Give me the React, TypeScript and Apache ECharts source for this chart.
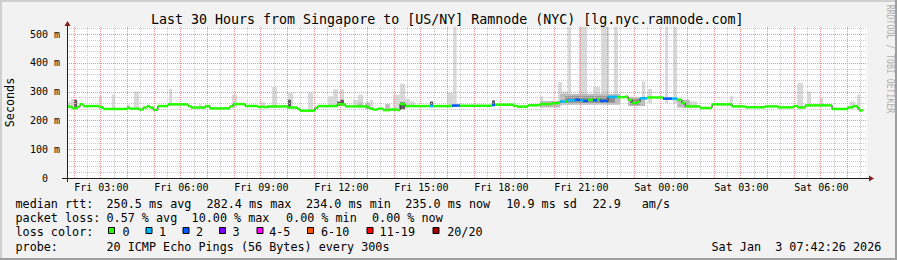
import React, { useEffect, useRef } from 'react';
import * as echarts from 'echarts';

// ---------- texts ----------
const titleText = 'Last 30 Hours from Singapore to [US/NY] Ramnode (NYC) [lg.nyc.ramnode.com]';
const yAxisName = 'Seconds';
const watermarkText = 'RRDTOOL / TOBI OETIKER';

// ---------- axes (hours since Fri 00:00) ----------
const xMinHour = 1.75;
const xMaxHour = 31.75;
const yMaxMs = 525;

// ---------- median rtt (step segments) ----------
const medianStart = [
  1.75, 1.94, 2.16, 2.24, 2.35, 2.95, 3.10, 4.00, 4.11, 4.45, 4.60, 4.75, 4.86, 4.98, 5.16, 5.54,
  6.29, 6.40, 6.93, 7.11, 7.86, 7.98, 8.43, 8.91, 9.25, 10.00, 10.38, 10.49, 11.05, 11.16, 11.88, 12.18,
  13.00, 13.11, 13.23, 13.41, 13.60, 13.86, 14.13, 14.24, 14.43, 15.36, 15.48, 16.19, 16.49, 17.69, 17.80,
  18.48, 18.63, 19.04, 19.49, 19.94, 20.13, 20.24, 20.43, 20.50, 20.80, 20.99, 21.10, 21.29, 21.48, 21.63,
  21.74, 22.04, 22.38, 22.68, 22.79, 22.94, 23.16, 23.24, 23.50, 24.10, 24.44, 24.63, 24.81, 24.93, 25.49,
  25.94, 26.69, 27.18, 27.93, 28.41, 28.98, 29.16, 29.43, 30.44, 31.04, 31.23, 31.38, 31.45,
];
const medianValue = [
  248, 243, 248, 256, 250, 246, 240, 244, 241, 238, 245, 250, 245, 237, 250, 256,
  250, 245, 250, 242, 249, 257, 250, 247, 249, 245, 240, 234, 244, 250, 256, 249,
  245, 241, 238, 241, 236, 238, 236, 257, 250, 250, 250, 252, 251, 254, 255,
  251, 248, 253, 257, 260, 262, 266, 266, 270, 272, 270, 268, 272, 270, 274,
  268, 282, 281, 283, 272, 261, 265, 277, 280, 276, 276, 272, 261, 249, 243.5,
  256, 249, 246, 249, 245.5, 250, 245.5, 252.5, 240, 245.5, 250, 244, 235,
];
const medianLoss = [
  0, 0, 0, 0, 0, 0, 0, 0, 0, 0, 0, 0, 0, 0, 0, 0,
  0, 0, 0, 0, 0, 0, 0, 0, 0, 0, 0, 0, 0, 0, 0, 0,
  0, 0, 0, 0, 0, 0, 0, 0, 0, 1, 0, 2, 0, 2, 0,
  0, 0, 0, 0, 0, 0, 1, 0, 1, 2, 1, 2, 0, 2, 0,
  2, 1, 0, 0, 0, 0, 0, 1, 0, 2, 1, 0, 0, 0, 0,
  0, 0, 0, 0, 0, 0, 0, 0, 0, 0, 0, 0, 0,
];
const medianEnd = 31.6;

// ---------- smoke (ping spread) ----------
const smokeStart = [
  1.75, 1.90, 2.01, 2.95, 3.44, 4.00, 4.26, 5.58, 6.70, 7.94, 8.99, 9.44, 10.04, 10.04, 10.79, 11.54,
  11.73, 11.88, 11.99, 11.99, 12.48, 12.66, 12.66, 12.93, 13.11, 13.68, 13.98, 14.24, 14.24, 14.43, 14.61,
  15.36, 16.00, 16.23, 17.69, 19.49, 20.16, 20.31, 20.54, 20.95, 21.48, 21.78, 22.26, 23.31, 23.54, 24.18,
  24.48, 24.85, 26.61, 29.13, 29.50, 30.00, 31.11, 31.38, 19.49, 20.24, 20.43, 22.79, 22.86, 24.63,
];
const smokeEnd = [
  1.90, 2.13, 2.13, 3.06, 3.55, 4.11, 4.45, 5.69, 6.81, 8.13, 9.18, 9.63, 10.23, 10.15, 10.98, 11.73,
  11.91, 12.03, 12.14, 12.14, 12.66, 12.85, 12.85, 13.11, 13.23, 13.86, 14.24, 14.43, 14.43, 14.61, 14.80,
  15.48, 16.23, 16.36, 17.80, 19.60, 20.31, 20.50, 20.65, 21.25, 21.74, 22.08, 22.41, 23.43, 23.69, 24.29,
  24.63, 25.38, 26.73, 29.35, 29.65, 30.10, 31.30, 31.49, 20.24, 22.49, 22.30, 23.43, 23.24, 25.11,
];
const smokeLow = [
  244, 240, 245, 244, 238, 240, 238, 252, 244, 247, 245, 246, 242, 245, 233, 246,
  246, 250, 250, 252, 246, 246, 248, 240, 236, 233, 234, 236, 240, 247, 247,
  248, 247, 247, 250, 245, 250, 255, 255, 255, 260, 260, 265, 255, 260, 260,
  260, 243, 247, 240, 248, 248, 244, 240, 245, 255, 262, 250, 255, 245,
];
const smokeHigh = [
  266, 275, 272, 286, 290, 256, 301, 310, 256, 290, 263, 316, 296, 272, 296, 284,
  309, 266, 309, 272, 272, 290, 263, 263, 272, 257, 290, 328, 263, 276, 266,
  266, 296, 525, 270, 284, 333, 301, 525, 525, 316, 525, 525, 336, 310, 525,
  525, 266, 284, 330, 301, 280, 266, 290, 268, 292, 284, 282, 275, 272,
];
const smokeShade = [
  0, 0, 3, 0, 0, 0, 0, 0, 0, 0, 0, 0, 0, 3, 0, 0,
  0, 3, 0, 3, 0, 0, 1, 1, 0, 1, 0, 0, 3, 0, 0,
  3, 0, 0, 3, 0, 0, 0, 0, 0, 0, 0, 0, 0, 0, 0,
  0, 0, 0, 0, 0, 0, 0, 0, 1, 1, 2, 1, 2, 1,
];

// ---------- legend ----------
const lossLabels = ['0', '1', '2', '3', '4-5', '6-10', '11-19', '20/20'];
const lossColors = ['#26ff00', '#00b8ff', '#0059ff', '#7e00ff', '#ff00ff', '#ff5500', '#ff0000', '#a00000'];
const rttStats = ['250.5 ms avg', '282.4 ms max', '234.0 ms min', '235.0 ms now', '10.9 ms sd', '22.9', 'am/s'];
const lossStats = ['0.57 % avg', '10.00 % max', '0.00 % min', '0.00 % now'];
const rowLabels = ['median rtt:', 'packet loss:', 'loss color:', 'probe:'];
const probeText = '20 ICMP Echo Pings (56 Bytes) every 300s';
const dateText = 'Sat Jan  3 07:42:26 2026';

const FONT = '"DejaVu Sans Mono", "Liberation Mono", monospace';
const smokeColors = ['#d9d9d9', '#bdbdbd', '#909090', '#5e5e5e'];
const MAJOR = '#ee8e8e';
const MINOR = '#c8c8c8';

function lossColorIndex(n: number): number {
  if (n <= 3) return n;
  if (n <= 5) return 4;
  if (n <= 10) return 5;
  if (n < 20) return 6;
  return 7;
}

function buildOption() {
  const smokeOrder = smokeStart.map((_, i) => i).sort((a, b) => smokeShade[a] - smokeShade[b]);
  const smokeData = smokeOrder.map((i) => [smokeStart[i], smokeEnd[i], smokeLow[i], smokeHigh[i], smokeShade[i]]);

  const medianData = medianStart.map((t, i) => [
    t,
    i + 1 < medianStart.length ? medianStart[i + 1] : medianEnd,
    medianValue[i],
    lossColorIndex(medianLoss[i]),
  ]);
  const stepData = medianStart.map((t, i) => [t, medianValue[i]]);
  stepData.push([medianEnd, medianValue[medianValue.length - 1]]);

  // grid lines (layout only), drawn as one custom series: [orientation, value, major]
  const gridLines: number[][] = [];
  for (let h = 2; h <= xMaxHour; h += 0.5) gridLines.push([0, h, Number.isInteger(h) ? 1 : 0]);
  for (let v = 20; v < yMaxMs; v += 20) gridLines.push([1, v, v % 100 === 0 ? 1 : 0]);
  gridLines.sort((a, b) => a[2] - b[2]);

  const text = (t: string, x: number, y: number, extra: any = {}) => ({
    type: 'text',
    x,
    y,
    silent: true,
    style: {
      text: t,
      fontFamily: FONT,
      fontSize: 11.75,
      fill: '#000',
      textAlign: 'left',
      textVerticalAlign: 'middle',
      ...extra,
    },
  });

  const rowY = [204, 218.2, 232.2, 246.5];
  const labelX = 15.5;
  const rttX = [106.5, 206.5, 306, 405.3, 506.2, 592.5, 641.8];
  const lossX = [106.5, 191.6, 286, 372];
  const boxX = [108, 145.5, 182.5, 219, 256.5, 307, 366.5, 432.5];
  const boxLabelX = [122.5, 159, 196, 232.5, 269.2, 321, 379.6, 447.2];

  const graphics: any[] = [
    { type: 'rect', shape: { x: 0, y: 0, width: 897, height: 2 }, style: { fill: '#cfcfcf' }, silent: true },
    { type: 'rect', shape: { x: 0, y: 0, width: 2, height: 260 }, style: { fill: '#cfcfcf' }, silent: true },
    { type: 'rect', shape: { x: 0, y: 258, width: 897, height: 2 }, style: { fill: '#9e9e9e' }, silent: true },
    { type: 'rect', shape: { x: 895, y: 0, width: 2, height: 260 }, style: { fill: '#9e9e9e' }, silent: true },
    { type: 'line', shape: { x1: 62, y1: 178.5, x2: 869, y2: 178.5 }, style: { stroke: '#1f1f1f', lineWidth: 1 }, silent: true, z: 10 },
    { type: 'line', shape: { x1: 67.5, y1: 182, x2: 67.5, y2: 25 }, style: { stroke: '#1f1f1f', lineWidth: 1 }, silent: true, z: 10 },
    { type: 'polygon', shape: { points: [[869, 175.5], [874, 178.5], [869, 181.5]] }, style: { fill: '#801f1f' }, silent: true, z: 10 },
    { type: 'polygon', shape: { points: [[64.5, 26], [67.5, 21], [70.5, 26]] }, style: { fill: '#801f1f' }, silent: true, z: 10 },
    text(titleText, 447.2, 19.2, { fontSize: 13.3, textAlign: 'center' }),
    { ...text(yAxisName, 10, 102.5, { textAlign: 'center' }), rotation: Math.PI / 2 },
    {
      ...text(watermarkText, 890, 59, { textAlign: 'center', fontSize: 10, fill: '#aeaeae' }),
      rotation: -Math.PI / 2,
      scaleX: 0.82,
    },
  ];

  rowLabels.forEach((l, i) => graphics.push(text(l, labelX, rowY[i])));
  rttStats.forEach((s, i) => graphics.push(text(s, rttX[i], rowY[0])));
  lossStats.forEach((s, i) => graphics.push(text(s, lossX[i], rowY[1])));
  lossLabels.forEach((l, i) => {
    graphics.push({
      type: 'rect',
      shape: { x: boxX[i] + 0.5, y: 227.5, width: 6, height: 6 },
      style: { fill: lossColors[i], stroke: '#000', lineWidth: 1 },
      silent: true,
    });
    graphics.push(text(l, boxLabelX[i], rowY[2]));
  });
  graphics.push(text(probeText, 106.5, rowY[3]));
  graphics.push(text(dateText, 881.3, rowY[3], { textAlign: 'right' }));

  return {
    animation: false,
    backgroundColor: '#f2f2f2',
    textStyle: { fontFamily: FONT },
    grid: {
      left: 67,
      top: 27,
      width: 800,
      height: 151,
      show: true,
      backgroundColor: '#ffffff',
      borderWidth: 0,
      containLabel: false,
      outerBoundsMode: 'none',
    },
    xAxis: {
      type: 'value',
      min: xMinHour,
      max: xMaxHour,
      interval: 0.25,
      axisLine: { show: true, onZero: false, lineStyle: { color: '#1f1f1f', width: 1 } },
      axisTick: { show: false },
      splitLine: { show: false },
      axisLabel: {
        show: true,
        fontFamily: FONT,
        fontSize: 10,
        color: '#000',
        margin: 4,
        padding: [0, 0, 0, 2],
        hideOverlap: false,
        formatter: (v: number) => {
          const r = Math.round(v);
          if (Math.abs(v - r) > 1e-6 || r % 3 !== 0) return '';
          const day = r >= 24 ? 'Sat' : 'Fri';
          const hh = String(r % 24).padStart(2, '0');
          return `${day} ${hh}:00`;
        },
      },
    },
    yAxis: {
      type: 'value',
      min: 0,
      max: yMaxMs,
      interval: 20,
      axisLine: { show: true, onZero: false, lineStyle: { color: '#1f1f1f', width: 1 } },
      axisTick: { show: false },
      splitLine: { show: false },
      axisLabel: {
        show: true,
        fontFamily: FONT,
        fontSize: 10,
        color: '#000',
        margin: 7,
        formatter: (v: number) => {
          const r = Math.round(v);
          if (Math.abs(v - r) > 1e-6 || r % 100 !== 0) return '';
          return r === 0 ? '{z|0}' : `${r} m`;
        },
        rich: { z: { fontFamily: FONT, fontSize: 10, color: '#000', padding: [0, 12, 0, 0] } },
      },
    },
    series: [
      {
        type: 'custom',
        name: 'smoke',
        clip: true,
        z: 2,
        silent: true,
        encode: { x: [0, 1], y: [2, 3] },
        data: smokeData,
        renderItem: (_p: any, api: any) => {
          const a = api.coord([api.value(0), api.value(2)]);
          const b = api.coord([api.value(1), api.value(3)]);
          return {
            type: 'rect',
            shape: { x: a[0], y: b[1], width: b[0] - a[0], height: a[1] - b[1] },
            style: { fill: smokeColors[api.value(4)] },
          };
        },
      },
      {
        type: 'custom',
        name: 'grid',
        z: 3,
        silent: true,
        dimensions: ['orient', 'val', 'major'],
        encode: { x: -1, y: -1 },
        data: gridLines,
        renderItem: (params: any, api: any) => {
          const row = gridLines[params.dataIndex];
          const vertical = row[0] === 0;
          const v = row[1];
          const color = row[2] === 1 ? MAJOR : MINOR;
          let x1, y1, x2, y2;
          if (vertical) {
            const a = api.coord([v, 0]);
            const b = api.coord([v, yMaxMs]);
            x1 = x2 = Math.round(a[0]) + 0.5;
            y1 = a[1];
            y2 = b[1];
          } else {
            const a = api.coord([xMinHour, v]);
            const b = api.coord([xMaxHour, v]);
            y1 = y2 = Math.round(a[1]) + 0.5;
            x1 = a[0];
            x2 = b[0];
          }
          return {
            type: 'line',
            shape: { x1, y1, x2, y2 },
            style: { stroke: color, fill: null, lineWidth: 1, lineDash: [1, 1] },
          };
        },
      },
      {
        type: 'line',
        name: 'median',
        step: 'end',
        z: 4,
        silent: true,
        showSymbol: false,
        symbol: 'none',
        data: stepData,
        lineStyle: { color: '#202020', width: 1 },
      },
      {
        type: 'custom',
        name: 'loss',
        clip: true,
        z: 5,
        silent: true,
        encode: { x: [0, 1], y: 2 },
        data: medianData,
        renderItem: (_p: any, api: any) => {
          const a = api.coord([api.value(0), api.value(2)]);
          const b = api.coord([api.value(1), api.value(2)]);
          return {
            type: 'rect',
            shape: { x: a[0], y: a[1] - 1.25, width: b[0] - a[0], height: 2.5 },
            style: { fill: lossColors[api.value(3)] },
          };
        },
      },
    ],
    graphic: { elements: graphics },
  };
}

export default function App() {
  const ref = useRef<HTMLDivElement>(null);
  useEffect(() => {
    if (!ref.current) return;
    const chart = echarts.init(ref.current, null, { renderer: 'svg', width: 897, height: 260 });
    chart.setOption(buildOption() as any);
    return () => chart.dispose();
  }, []);
  return (
    <div
      ref={ref}
      style={{ position: 'fixed', left: 0, top: 0, width: 897, height: 260 }}
    />
  );
}
